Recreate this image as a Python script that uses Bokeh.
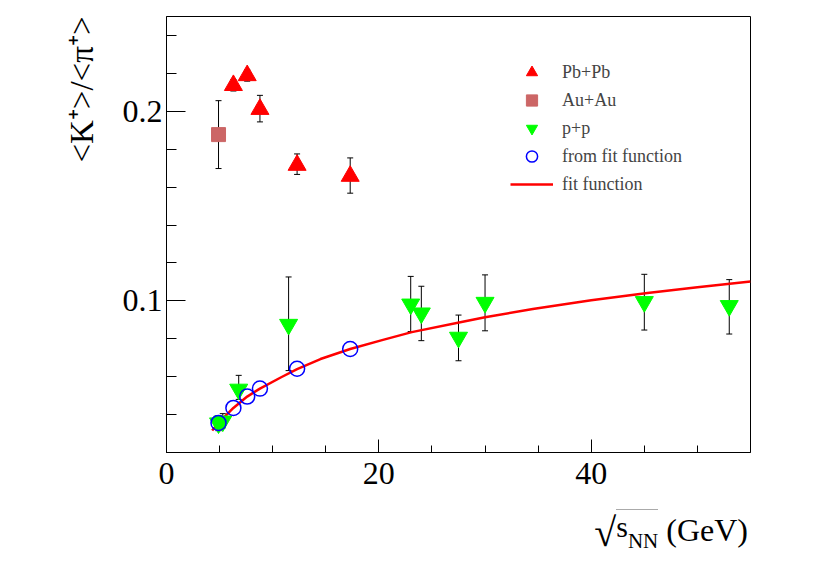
from bokeh.plotting import figure
from bokeh.layouts import column
from bokeh.models import (ColumnDataSource, Whisker, TeeHead, Legend, LegendItem,
                          FixedTicker, Range1d, Title, Div)
from bokeh.embed import file_html
from bokeh.resources import INLINE

# ---- data ----
pb_x = [6.3, 7.6, 8.8, 12.3, 17.3]
pb_y = [0.2137, 0.2189, 0.2011, 0.1716, 0.1658]
pb_lo = [0.2107, 0.2159, 0.1944, 0.1667, 0.1568]
pb_hi = [0.2167, 0.2219, 0.2084, 0.1775, 0.1754]

au_x = [4.9]
au_y = [0.1877]
au_lo = [0.1698]
au_hi = [0.2056]

pp_x = [4.9, 5.3, 6.8, 11.5, 23.0, 24.0, 27.5, 30.0, 45.0, 53.0]
pp_y = [0.0355, 0.0365, 0.0533, 0.0875, 0.0982, 0.0935, 0.0807, 0.0991, 0.0995, 0.0974]
pp_lo = [0.0315, 0.0330, 0.0480, 0.0632, 0.0838, 0.0790, 0.0684, 0.0842, 0.0846, 0.0825]
pp_hi = [0.0395, 0.0405, 0.0607, 0.1126, 0.1129, 0.1077, 0.0925, 0.1137, 0.1140, 0.1112]

ff_x = [4.9, 6.3, 7.6, 8.8, 12.3, 17.3]
ff_y = [0.0356, 0.0435, 0.0495, 0.0537, 0.0642, 0.0746]

fit_x = [4.3, 4.9, 6.3, 7.6, 8.8, 10.8, 12.3, 14.5, 17.3, 20.3, 23.1, 27.9, 30.0,
         34.5, 40.0, 45.3, 50.0, 55.0]
fit_y = [0.0316, 0.0356, 0.0435, 0.0495, 0.0537, 0.0597, 0.0640, 0.0693, 0.0746,
         0.0793, 0.0835, 0.0890, 0.0913, 0.0957, 0.1003, 0.1042, 0.1072, 0.1102]

x_ticks = [0, 20, 40]
x_minor = [5, 10, 15, 25, 30, 35, 45, 50]
y_ticks = [0.1, 0.2]
y_minor = [0.04, 0.06, 0.08, 0.12, 0.14, 0.16, 0.18, 0.22, 0.24]
y_tick_labels = {0.1: "0.1", 0.2: "0.2"}

y_title = "<K⁺>/<π⁺>"
x_title_root = "√"
x_title_s = "s"
x_title_sub = "NN"
x_title_unit = "(GeV)"

SERIF = "Liberation Serif"
BL, BR = 166, 68
FW = 584

p = figure(frame_width=FW, frame_height=436, output_backend="svg", toolbar_location=None,
           x_range=Range1d(0, 55), y_range=Range1d(0.02, 0.25),
           min_border_left=BL, min_border_right=BR, min_border_top=16, min_border_bottom=48)
p.grid.visible = False
p.outline_line_color = "black"
p.outline_line_width = 1
p.background_fill_color = "white"
p.border_fill_color = "white"

for ax, ticks, minor in ((p.xaxis, x_ticks, x_minor), (p.yaxis, y_ticks, y_minor)):
    ax.ticker = FixedTicker(ticks=ticks, minor_ticks=minor)
    ax.major_label_text_font = SERIF
    ax.major_label_text_font_size = "32px"
    ax.major_label_text_color = "black"
    ax.axis_line_color = "black"
    ax.major_tick_line_color = "black"
    ax.minor_tick_line_color = "black"
    ax.major_tick_out = 0
    ax.minor_tick_out = 0
p.xaxis.major_tick_in = 13
p.xaxis.minor_tick_in = 7
p.yaxis.major_tick_in = 19
p.yaxis.minor_tick_in = 10
p.yaxis.major_label_overrides = y_tick_labels
p.yaxis.major_label_standoff = 4
p.xaxis.major_label_standoff = 10

# y axis title (top-aligned, like ROOT)
p.add_layout(Title(text=y_title, align="right", text_font=SERIF, text_font_size="33px",
                   text_font_style="normal", text_color="black", standoff=39), "left")

# error bars
def add_err(xs, lo, hi):
    src = ColumnDataSource(dict(x=xs, lo=lo, hi=hi))
    w = Whisker(source=src, base="x", lower="lo", upper="hi", dimension="height",
                line_color="black", line_width=1,
                upper_head=TeeHead(size=6, line_color="black", line_width=1),
                lower_head=TeeHead(size=6, line_color="black", line_width=1))
    p.add_layout(w)

add_err(pb_x, pb_lo, pb_hi)
add_err(au_x, au_lo, au_hi)
add_err(pp_x, pp_lo, pp_hi)

r_fit = p.line(fit_x, fit_y, line_color="red", line_width=2.5)
r_pb = p.scatter(pb_x, pb_y, marker="triangle", size=18, fill_color="red", line_color="red")
r_au = p.scatter(au_x, au_y, marker="square", size=14, fill_color="#cc6666", line_color="#cc6666")
r_pp = p.scatter(pp_x, pp_y, marker="inverted_triangle", size=18, fill_color="#00ff00",
                 line_color="#00ff00")
r_ff = p.scatter(ff_x, ff_y, marker="circle", size=15, fill_color=None,
                 line_color="blue", line_width=1.5)

legend = Legend(items=[
    LegendItem(label="Pb+Pb", renderers=[r_pb]),
    LegendItem(label="Au+Au", renderers=[r_au]),
    LegendItem(label="p+p", renderers=[r_pp]),
    LegendItem(label="from fit function", renderers=[r_ff]),
    LegendItem(label="fit function", renderers=[r_fit]),
], location=(344, 254), background_fill_alpha=0, border_line_alpha=0, padding=0, margin=0,
    spacing=0, glyph_width=43, glyph_height=28, label_height=28, label_standoff=9,
    label_text_font=SERIF, label_text_font_size="18px")
p.add_layout(legend, "center")

# x axis title, right-aligned under the frame (ROOT style)
DW = BL + FW - 2
x_html = (
    '<div style="width:' + str(DW) + 'px; text-align:right; font-family:\'Liberation Serif\'; '
    'font-size:32px; line-height:32px; padding-top:12px; color:black; white-space:nowrap;">'
    '<span style="font-size:40px; position:relative; top:5px;">' + x_title_root + '</span>'
    '<span style="border-top:1px solid #aaaaaa; padding-top:2px;">'
    '<span style="position:relative; top:-4px; font-size:30px;">' + x_title_s + '</span>'
    '<span style="font-size:21px; position:relative; top:7px;">' + x_title_sub + '</span>'
    '</span> ' + x_title_unit + '</div>'
)
xdiv = Div(text=x_html, width=DW, height=49, margin=0,
           styles={"text-align": "right", "width": str(DW) + "px"})

layout = column(p, xdiv, spacing=0)
open("out.html", "w").write(file_html(layout, INLINE))
